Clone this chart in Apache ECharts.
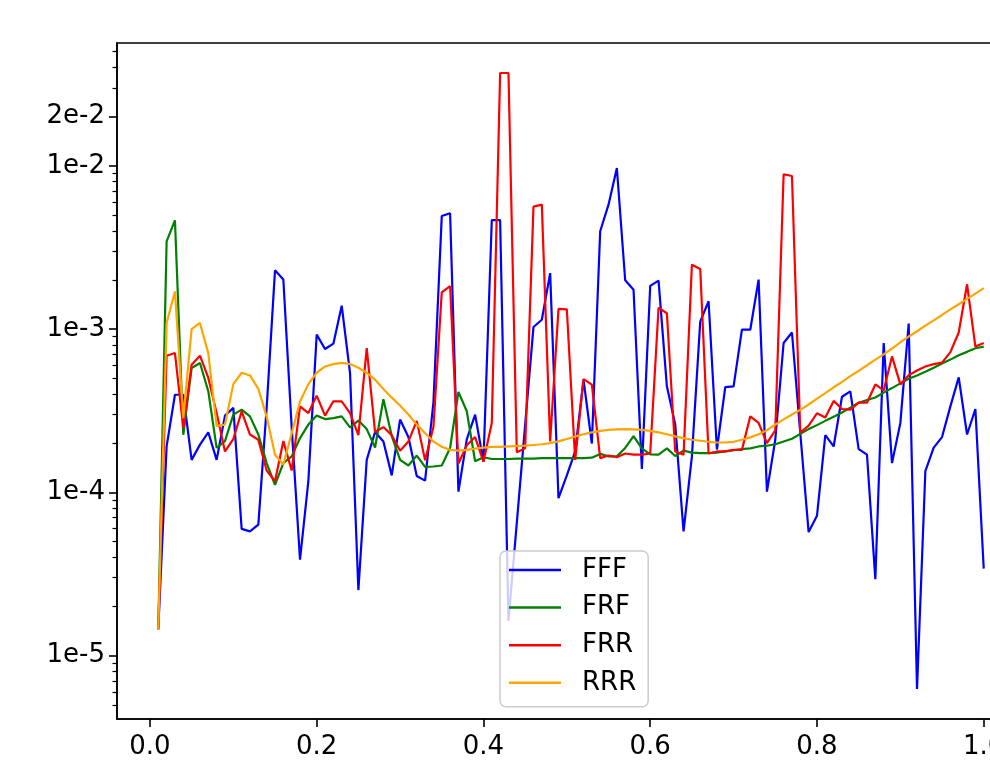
<!DOCTYPE html>
<html>
<head>
<meta charset="utf-8">
<script src="https://cdn.jsdelivr.net/npm/echarts@6/dist/echarts.min.js"></script>
<style>
  html, body { margin: 0; padding: 0; background: #fff; overflow: hidden; }
  #chart { width: 1030px; height: 761px; }
</style>
</head>
<body>
<div id="chart"></div>
<script>
const xs = [
  0.01, 0.02, 0.03, 0.04, 0.05, 0.06, 0.07, 0.08, 0.09, 0.10,
  0.11, 0.12, 0.13, 0.14, 0.15, 0.16, 0.17, 0.18, 0.19, 0.20,
  0.21, 0.22, 0.23, 0.24, 0.25, 0.26, 0.27, 0.28, 0.29, 0.30,
  0.31, 0.32, 0.33, 0.34, 0.35, 0.36, 0.37, 0.38, 0.39, 0.40,
  0.41, 0.42, 0.43, 0.44, 0.45, 0.46, 0.47, 0.48, 0.49, 0.50,
  0.51, 0.52, 0.53, 0.54, 0.55, 0.56, 0.57, 0.58, 0.59, 0.60,
  0.61, 0.62, 0.63, 0.64, 0.65, 0.66, 0.67, 0.68, 0.69, 0.70,
  0.71, 0.72, 0.73, 0.74, 0.75, 0.76, 0.77, 0.78, 0.79, 0.80,
  0.81, 0.82, 0.83, 0.84, 0.85, 0.86, 0.87, 0.88, 0.89, 0.90,
  0.91, 0.92, 0.93, 0.94, 0.95, 0.96, 0.97, 0.98, 0.99, 1.00
];

const fff = [
  1.45e-5, 1.91e-4, 3.96e-4, 3.96e-4, 1.58e-4, 1.96e-4, 2.33e-4, 1.58e-4, 2.95e-4, 3.29e-4,
  5.97e-5, 5.77e-5, 6.34e-5, 3.3e-4, 2.29e-3, 2.01e-3, 2.5e-4, 3.87e-5, 1.17e-4, 9.25e-4,
  7.55e-4, 8.14e-4, 1.39e-3, 5.38e-4, 2.52e-5, 1.58e-4, 2.34e-4, 2.05e-4, 1.27e-4, 2.79e-4,
  2.18e-4, 1.26e-4, 1.18e-4, 3.55e-4, 4.92e-3, 5.12e-3, 1.01e-4, 2.11e-4, 2.99e-4, 1.54e-4,
  4.65e-3, 4.65e-3, 1.63e-5, 6.5e-5, 2.59e-4, 1.03e-3, 1.14e-3, 2.2e-3, 9.2e-5, 1.27e-4,
  1.78e-4, 4.9e-4, 1.99e-4, 3.97e-3, 5.78e-3, 9.69e-3, 1.99e-3, 1.74e-3, 1.39e-4, 1.84e-3,
  1.98e-3, 4.46e-4, 2.6e-4, 5.77e-5, 1.66e-4, 1.11e-3, 1.48e-3, 1.83e-4, 4.41e-4, 4.46e-4,
  9.91e-4, 9.91e-4, 2.01e-3, 1.01e-4, 2.1e-4, 8.22e-4, 9.53e-4, 2.3e-4, 5.71e-5, 7.18e-5,
  2.24e-4, 1.91e-4, 3.85e-4, 4.15e-4, 1.84e-4, 1.7e-4, 2.94e-5, 8.22e-4, 1.51e-4, 2.66e-4,
  1.08e-3, 6.24e-6, 1.35e-4, 1.88e-4, 2.18e-4, 3.36e-4, 5.06e-4, 2.26e-4, 3.24e-4, 3.41e-5
];

const frf = [
  1.45e-5, 3.44e-3, 4.63e-3, 2.25e-4, 5.78e-4, 6.2e-4, 4.16e-4, 1.87e-4, 2.06e-4, 2.99e-4,
  3.21e-4, 2.92e-4, 2.26e-4, 1.51e-4, 1.11e-4, 1.51e-4, 1.66e-4, 2.15e-4, 2.6e-4, 2.95e-4,
  2.81e-4, 2.85e-4, 2.92e-4, 2.5e-4, 2.75e-4, 2.44e-4, 1.88e-4, 3.72e-4, 2.21e-4, 1.58e-4,
  1.46e-4, 1.68e-4, 1.43e-4, 1.44e-4, 1.46e-4, 1.87e-4, 4.12e-4, 3.14e-4, 1.55e-4, 1.64e-4,
  1.6e-4, 1.6e-4, 1.6e-4, 1.61e-4, 1.61e-4, 1.61e-4, 1.62e-4, 1.62e-4, 1.62e-4, 1.62e-4,
  1.62e-4, 1.62e-4, 1.63e-4, 1.72e-4, 1.66e-4, 1.66e-4, 1.87e-4, 2.21e-4, 1.86e-4, 1.71e-4,
  1.7e-4, 1.86e-4, 1.67e-4, 1.8e-4, 1.75e-4, 1.74e-4, 1.74e-4, 1.75e-4, 1.78e-4, 1.81e-4,
  1.84e-4, 1.86e-4, 1.91e-4, 1.93e-4, 1.97e-4, 2.05e-4, 2.13e-4, 2.28e-4, 2.44e-4, 2.58e-4,
  2.74e-4, 2.9e-4, 3.08e-4, 3.3e-4, 3.54e-4, 3.68e-4, 3.81e-4, 4.08e-4, 4.35e-4, 4.65e-4,
  4.96e-4, 5.2e-4, 5.47e-4, 5.8e-4, 6.16e-4, 6.5e-4, 6.91e-4, 7.25e-4, 7.63e-4, 7.8e-4
];

const frr = [
  1.45e-5, 6.87e-4, 7.13e-4, 2.48e-4, 6.05e-4, 6.87e-4, 5.02e-4, 3.06e-4, 1.78e-4, 2.12e-4,
  3.13e-4, 2.26e-4, 2.1e-4, 1.36e-4, 1.17e-4, 2.06e-4, 1.36e-4, 3.36e-4, 3.06e-4, 3.91e-4,
  2.95e-4, 3.61e-4, 3.61e-4, 3.06e-4, 2.24e-4, 7.64e-4, 2.34e-4, 2.51e-4, 2.24e-4, 1.8e-4,
  2.05e-4, 2.74e-4, 1.57e-4, 2.51e-4, 1.68e-3, 1.83e-3, 1.5e-4, 1.94e-4, 2.18e-4, 1.54e-4,
  2.66e-4, 3.7e-2, 3.7e-2, 1.76e-4, 1.86e-4, 5.62e-3, 5.78e-3, 2.05e-4, 1.33e-3, 1.32e-3,
  1.58e-4, 4.94e-4, 4.57e-4, 1.62e-4, 1.68e-4, 1.64e-4, 1.73e-4, 1.7e-4, 1.7e-4, 1.73e-4,
  1.35e-3, 1.25e-3, 1.78e-4, 1.7e-4, 2.48e-3, 2.33e-3, 1.73e-4, 1.78e-4, 1.78e-4, 1.82e-4,
  1.82e-4, 2.92e-4, 2.66e-4, 2.0e-4, 2.4e-4, 8.87e-3, 8.66e-3, 2.32e-4, 2.56e-4, 3.05e-4,
  2.87e-4, 3.63e-4, 3.24e-4, 3.21e-4, 3.54e-4, 3.54e-4, 4.58e-4, 4.21e-4, 6.8e-4, 4.58e-4,
  5.21e-4, 5.58e-4, 5.9e-4, 6.1e-4, 6.23e-4, 7.22e-4, 9.53e-4, 1.88e-3, 7.81e-4, 8.22e-4
];

const rrr = [
  1.45e-5, 1.09e-3, 1.7e-3, 2.85e-4, 1.0e-3, 1.09e-3, 7.1e-4, 2.55e-4, 2.6e-4, 4.6e-4,
  5.4e-4, 5.2e-4, 4.3e-4, 2.9e-4, 1.7e-4, 1.48e-4, 2.3e-4, 3.6e-4, 4.6e-4, 5.4e-4,
  5.9e-4, 6.1e-4, 6.2e-4, 6.1e-4, 5.8e-4, 5.4e-4, 4.9e-4, 4.3e-4, 3.8e-4, 3.4e-4,
  3.0e-4, 2.6e-4, 2.3e-4, 2.05e-4, 1.9e-4, 1.82e-4, 1.8e-4, 1.82e-4, 1.85e-4, 1.88e-4,
  1.9e-4, 1.9e-4, 1.91e-4, 1.92e-4, 1.93e-4, 1.95e-4, 1.97e-4, 2.0e-4, 2.05e-4, 2.12e-4,
  2.2e-4, 2.27e-4, 2.33e-4, 2.38e-4, 2.41e-4, 2.43e-4, 2.44e-4, 2.43e-4, 2.41e-4, 2.38e-4,
  2.33e-4, 2.27e-4, 2.2e-4, 2.15e-4, 2.1e-4, 2.07e-4, 2.04e-4, 2.02e-4, 2.02e-4, 2.04e-4,
  2.1e-4, 2.17e-4, 2.27e-4, 2.4e-4, 2.6e-4, 2.8e-4, 3.0e-4, 3.2e-4, 3.45e-4, 3.75e-4,
  4.05e-4, 4.4e-4, 4.75e-4, 5.15e-4, 5.55e-4, 6.0e-4, 6.5e-4, 7.0e-4, 7.6e-4, 8.3e-4,
  9.0e-4, 9.7e-4, 1.05e-3, 1.13e-3, 1.22e-3, 1.32e-3, 1.42e-3, 1.53e-3, 1.65e-3, 1.78e-3
];

const seriesNames = ["FFF", "FRF", "FRR", "RRR"];
const seriesColors = ["#0000ff", "#008000", "#ff0000", "#ffa500"];
const xTicks = [0, 0.2, 0.4, 0.6, 0.8, 1.0];
const yLabelTicks = [1e-5, 1e-4, 1e-3, 1e-2, 2e-2];
const yMinorTicks = [
  5e-6, 6e-6, 7e-6, 8e-6, 9e-6,
  2e-5, 3e-5, 4e-5, 5e-5, 6e-5, 7e-5, 8e-5, 9e-5,
  2e-4, 3e-4, 4e-4, 5e-4, 6e-4, 7e-4, 8e-4, 9e-4,
  2e-3, 3e-3, 4e-3, 5e-3, 6e-3, 7e-3, 8e-3, 9e-3,
  3e-2, 4e-2, 5e-2
];

const FONT = "DejaVu Sans";

function sciLabel(value) {
  const exp = Math.floor(Math.log10(value) + 1e-9);
  const mant = Math.round(value / Math.pow(10, exp));
  return mant + "e" + exp;
}

const chart = echarts.init(document.getElementById("chart"), null, { renderer: "canvas" });

const yBase = {
  type: "log",
  logBase: 10,
  min: 4.09e-6,
  max: 5.65e-2,
  position: "left",
  splitLine: { show: false },
  minorTick: { show: false },
  minorSplitLine: { show: false },
};

chart.setOption({
  animation: false,
  grid: {
    left: 117, top: 43, width: 908, height: 676,
    show: true, borderColor: "#000", borderWidth: 1.6, backgroundColor: "transparent",
  },
  legend: {
    left: 500, top: 551,
    orient: "vertical",
    icon: "rect",
    itemWidth: 52, itemHeight: 2.5,
    itemGap: 7.6,
    padding: [4, 12, 9, 9],
    backgroundColor: "rgba(255,255,255,0.8)",
    borderColor: "#cccccc", borderWidth: 1.5, borderRadius: 6,
    textStyle: { fontFamily: FONT, fontSize: 26, color: "#000", lineHeight: 27, padding: [3, 0, 0, 16] },
    data: seriesNames,
    z: 10,
  },
  xAxis: {
    type: "value",
    min: -0.0395, max: 1.0495,
    axisLine: { show: true, onZero: false, lineStyle: { color: "#000", width: 1.6 } },
    axisTick: { show: true, length: 8, lineStyle: { color: "#000", width: 1.6 }, customValues: xTicks },
    axisLabel: {
      customValues: xTicks, margin: 15,
      fontFamily: FONT, fontSize: 26, color: "#000",
      formatter: (v) => v.toFixed(1),
    },
    splitLine: { show: false },
  },
  yAxis: [
    {
      ...yBase,
      axisLine: { show: true, onZero: false, lineStyle: { color: "#000", width: 1.6 } },
      axisTick: { show: true, length: 8, lineStyle: { color: "#000", width: 1.6 }, customValues: yLabelTicks },
      axisLabel: {
        customValues: yLabelTicks, margin: 12, padding: [8, 0, 0, 0],
        fontFamily: FONT, fontSize: 26, color: "#000",
        formatter: (v) => sciLabel(v),
      },
    },
    {
      ...yBase,
      axisLine: { show: false, onZero: false },
      axisTick: { show: true, length: 4.5, lineStyle: { color: "#000", width: 1.2 }, customValues: yMinorTicks },
      axisLabel: { show: false },
    },
  ],
  series: [fff, frf, frr, rrr].map((values, k) => ({
    name: seriesNames[k],
    type: "line",
    yAxisIndex: 0,
    data: xs.map((x, i) => [x, values[i]]),
    symbol: "none",
    color: seriesColors[k],
    lineStyle: { width: 2.2, color: seriesColors[k] },
    z: 2 + k,
  })),
});
</script>
</body>
</html>
